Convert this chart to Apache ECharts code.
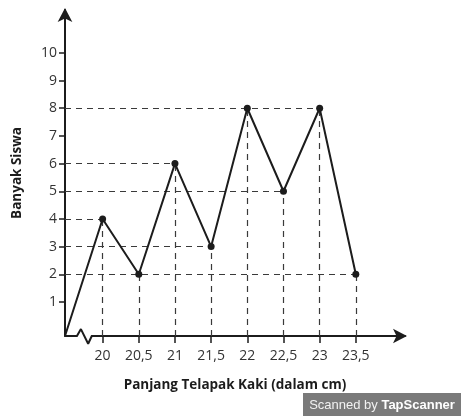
<!DOCTYPE html>
<html>
<head>
<meta charset="utf-8">
<script src="https://cdn.jsdelivr.net/npm/echarts@6/dist/echarts.min.js"></script>
<style>
html,body{margin:0;padding:0;background:#fff;}
#c{width:461px;height:416px;}
</style>
</head>
<body>
<div id="c"></div>
<script>
// ---- data ----
const xValues = [20, 20.5, 21, 21.5, 22, 22.5, 23, 23.5];
const counts  = [4, 2, 6, 3, 8, 5, 8, 2];
const yTicks  = [1, 2, 3, 4, 5, 6, 7, 8, 9, 10];
const xTitle = 'Panjang Telapak Kaki (dalam cm)';
const yTitle = 'Banyak Siswa';
const watermarkA = 'Scanned by ';
const watermarkB = 'TapScanner';
// axis extents (origin of the frequency polygon is at the axis corner)
const X_MIN = 19.48, X_MAX = 24.18;
const Y_MIN = -0.23, Y_MAX = 11.55;
// axis-break zigzag (in axis units)
const breakX = [19.645, 19.70, 19.80, 19.85];
const breakY = [Y_MIN, Y_MIN + 0.25, Y_MIN - 0.28, Y_MIN];

const FONT = '"Open Sans", "Noto Sans", sans-serif';
const INK = '#1c1c1c';

const points = xValues.map((x, i) => [x, counts[i]]);
const lineData = [{ value: [X_MIN, Y_MIN], symbol: 'none' }].concat(points.map(p => ({ value: p })));

// guide lines: horizontal to the farthest point with that count, vertical from axis to point
const guides = [];
const seen = {};
for (let i = xValues.length - 1; i >= 0; i--) {
  const y = counts[i];
  if (!seen[y]) {
    seen[y] = true;
    guides.push([{ coord: [X_MIN, y] }, { coord: [xValues[i], y] }]);
  }
}
xValues.forEach((x, i) => {
  guides.push([{ coord: [x, Y_MIN] }, { coord: [x, counts[i]] }]);
});

const chart = echarts.init(document.getElementById('c'), null, { renderer: 'canvas' });
chart.setOption({
  animation: false,
  backgroundColor: '#fff',
  grid: { left: 65, right: 56, top: 10, bottom: 80 },
  xAxis: {
    type: 'value',
    min: X_MIN, max: X_MAX,
    name: xTitle,
    nameLocation: 'middle',
    nameGap: 42,
    nameTextStyle: { fontFamily: FONT, fontWeight: 'bold', fontSize: 13.5, color: INK },
    axisLine: { onZero: false, show: true, lineStyle: { color: INK, width: 2 }, symbol: ['none', 'arrow'], symbolSize: [11, 14], symbolOffset: [0, 2] },
    axisTick: { show: true, customValues: xValues, length: 7, lineStyle: { color: INK, width: 1.5 } },
    axisLabel: { customValues: xValues, margin: 13, fontFamily: FONT, fontSize: 14, color: '#333',
      formatter: v => String(v).replace('.', ',') },
    splitLine: { show: false }
  },
  yAxis: {
    type: 'value',
    min: Y_MIN, max: Y_MAX,
    name: yTitle,
    nameLocation: 'middle',
    nameGap: 41,
    nameRotate: 90,
    nameTextStyle: { fontFamily: FONT, fontWeight: 'bold', fontSize: 13.5, color: INK },
    axisLine: { show: true, lineStyle: { color: INK, width: 2 }, symbol: ['none', 'arrow'], symbolSize: [11, 14], symbolOffset: [0, 2] },
    axisTick: { show: true, customValues: yTicks, length: 6, lineStyle: { color: INK, width: 1.5 } },
    axisLabel: { customValues: yTicks, margin: 8, fontFamily: FONT, fontSize: 14, color: '#333' },
    splitLine: { show: false }
  },
  series: [
    {
      type: 'line',
      data: lineData,
      symbol: 'circle',
      symbolSize: 7,
      itemStyle: { color: INK },
      lineStyle: { color: INK, width: 2 },
      z: 5,
      markLine: {
        silent: true,
        symbol: 'none',
        label: { show: false },
        lineStyle: { color: '#3a3a3a', width: 1.2, type: [6, 5] },
        data: guides
      }
    },
    {
      type: 'line',
      silent: true,
      clip: false,
      symbol: 'none',
      data: [[breakX[0] + 0.01, Y_MIN], [breakX[3] - 0.01, Y_MIN]],
      lineStyle: { color: '#fff', width: 5 },
      z: 3
    },
    {
      type: 'line',
      silent: true,
      clip: false,
      symbol: 'none',
      data: breakX.map((x, i) => [x, breakY[i]]),
      lineStyle: { color: INK, width: 2 },
      z: 4
    }
  ],
  graphic: [
    {
      type: 'group',
      right: 0,
      bottom: 0,
      children: [
        { type: 'rect', shape: { x: 0, y: 0, width: 158, height: 23 }, style: { fill: '#7a7a7a' } },
        {
          type: 'text', x: 79, y: 12,
          style: {
            text: '{a|' + watermarkA + '}{b|' + watermarkB + '}',
            align: 'center', verticalAlign: 'middle',
            rich: {
              a: { fontFamily: '"Liberation Sans", Arial, sans-serif', fontSize: 13, fill: '#f2f2f2' },
              b: { fontFamily: '"Liberation Sans", Arial, sans-serif', fontSize: 13, fontWeight: 'bold', fill: '#ffffff' }
            }
          }
        }
      ]
    }
  ]
});
</script>
</body>
</html>
